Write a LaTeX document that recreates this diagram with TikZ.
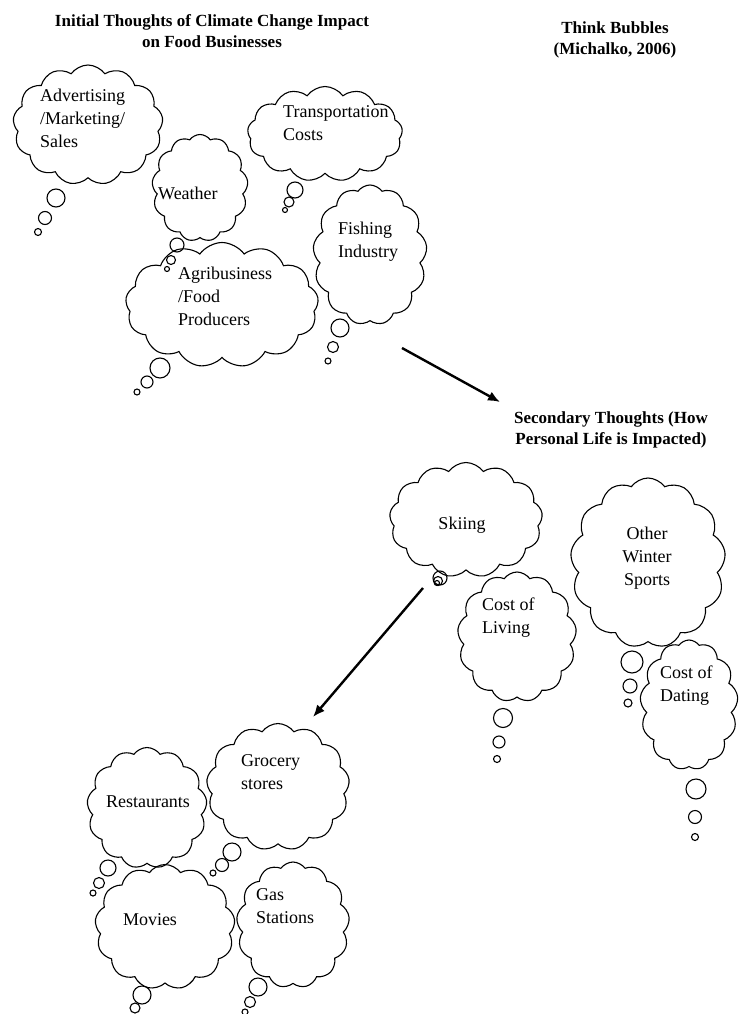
\documentclass[tikz,border=0pt]{standalone}
\usepackage{fontspec}
\setmainfont{Liberation Serif}
\usetikzlibrary{shapes.symbols,arrows.meta}

\begin{document}
\begin{tikzpicture}[x=1pt,y=-1pt,
	thought/.style={cloud,draw,line width=1.1pt,cloud puffs=13,cloud puff arc=110,cloud ignores aspect,inner sep=0pt},
	thoughttext/.style={font=\fontsize{18}{23}\selectfont,align=left,anchor=north west,inner sep=0pt},
	heading/.style={font=\fontsize{17}{21}\selectfont\bfseries,align=center,inner sep=0pt},
	bigarrow/.style={line width=2.4pt,-{Latex[length=12pt,width=10pt]}}]
\useasboundingbox (0,0) rectangle (740,1014);
% headings
\node[heading] (initial) at (212,31) {Initial Thoughts of Climate Change Impact\\on Food Businesses};
\node[heading] (bubbles) at (615,40) {Think Bubbles\\(Michalko, 2006)};
\node[heading] (second) at (611,430) {Secondary Thoughts (How\\Personal Life is Impacted)};
% the clouds
\foreach \n/\x/\y/\w/\h in {adv/88/125/150/120, trans/325/134/155/95, weather/200/188/96/107,
	agri/222/305/193/125, fish/370/255/114/140, ski/466/520/153/115, sports/648/563/155/170,
	living/517/637/119/130, dating/689/705/98/130, rest/147/808/120/121, grocery/278/787/143/127,
	movies/165/927/140/125, gas/293/925/113/126}
	\node[thought,minimum width=\w pt,minimum height=\h pt] (\n) at (\x,\y) {};
% the small bubbles under each cloud
\foreach \x/\y/\r in {56/198/9, 45/218/6.5, 38/232/3.5,
	295/190/8, 289/202/5, 285/210/2.5,
	177/245/7, 171/260/4.5, 167/269/2.5,
	160/368/10, 147/382/6, 137/392/3,
	340/328/9, 333/347/5.5, 328/361/3,
	440/578/7, 438/581/4.5, 437/583/2.5,
	632/662/11, 630/686/7, 628/703/4,
	503/718/9.5, 499/742/6, 497/759/3.5,
	696/789/10, 695/817/6.5, 695/837/3.5,
	108/868/8, 99/883/5.5, 93/893/3,
	232/852/9, 222/865/6.5, 213/873/3,
	142/995/9, 135/1008/5,
	258/987/9, 250/1002/5.5, 245/1012/3}
	\draw[line width=1.1pt] (\x,\y) circle (\r pt);
% texts
\node[thoughttext] (adv-t) at (40,89) {Advertising\\/Marketing/\\Sales};
\node[thoughttext] (trans-t) at (283,105) {Transportation\\Costs};
\node[thoughttext] (weather-t) at (158,187) {Weather};
\node[thoughttext] (agri-t) at (178,267) {Agribusiness\\/Food\\Producers};
\node[thoughttext] (fish-t) at (338,222) {Fishing\\Industry};
\node[thoughttext,anchor=center] (ski-t) at (462,525) {Skiing};
\node[thoughttext,align=center,anchor=north] (sports-t) at (647,527) {Other\\Winter\\Sports};
\node[thoughttext] (living-t) at (482,598) {Cost of\\Living};
\node[thoughttext] (dating-t) at (660,666) {Cost of\\Dating};
\node[thoughttext,anchor=center] (rest-t) at (148,802) {Restaurants};
\node[thoughttext] (grocery-t) at (241,754) {Grocery\\stores};
\node[thoughttext,anchor=center] (movies-t) at (150,920) {Movies};
\node[thoughttext] (gas-t) at (256,888) {Gas\\Stations};
% arrows
\coordinate (from1) at (402,348);
\coordinate (to1) at (500,402);
\coordinate (from2) at (423,588);
\coordinate (to2) at (313,717);
\draw[bigarrow] (from1) -- (to1);
\draw[bigarrow] (from2) -- (to2);
\end{tikzpicture}
\end{document}
